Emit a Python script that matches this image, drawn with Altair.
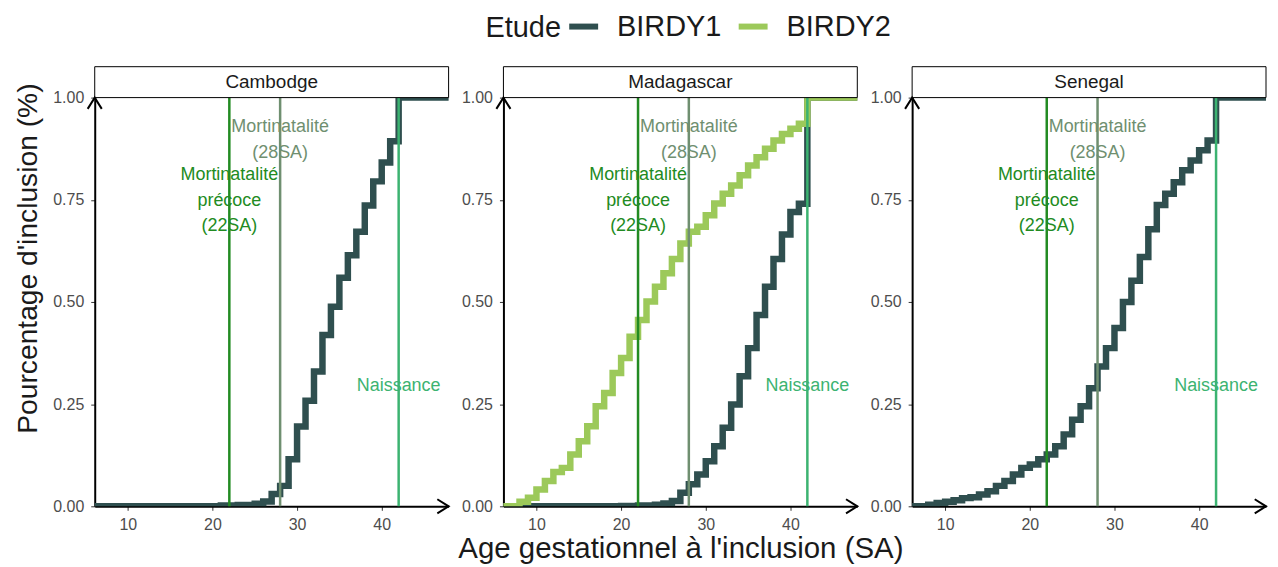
import altair as alt
import pandas as pd

# ---------------- data ----------------
countries = ["Cambodge", "Madagascar", "Senegal"]
etudes = ["BIRDY1", "BIRDY2"]
etude_colors = ["#2F4F4F", "#9CC95A"]

# ECDF step positions (weeks, SA) and cumulative share after each step
cam_b1_x = [21, 23, 25, 26, 27, 28, 29, 30, 31, 32, 33, 34, 35, 36, 37, 38, 39, 40, 41, 42]
cam_b1_y = [0.002, 0.003, 0.006, 0.012, 0.03, 0.05, 0.115, 0.195, 0.258, 0.33, 0.419,
            0.488, 0.559, 0.614, 0.672, 0.736, 0.795, 0.841, 0.893, 1.0]

mad_b1_x = [20, 22, 24, 25, 26, 27, 28, 29, 30, 31, 32, 33, 34, 35, 36, 37, 38, 39, 40, 41, 42]
mad_b1_y = [0.001, 0.002, 0.004, 0.007, 0.013, 0.033, 0.054, 0.078, 0.11, 0.147, 0.192,
            0.249, 0.318, 0.387, 0.468, 0.537, 0.605, 0.665, 0.72, 0.74, 1.0]

mad_b2_x = [8, 9, 10, 11, 12, 13, 14, 15, 16, 17, 18, 19, 20, 21, 22, 23, 24, 25, 26, 27,
            28, 29, 30, 31, 32, 33, 34, 35, 36, 37, 38, 39, 40, 41, 42]
mad_b2_y = [0.011, 0.021, 0.041, 0.062, 0.084, 0.094, 0.127, 0.159, 0.196, 0.245, 0.277,
            0.326, 0.363, 0.415, 0.456, 0.501, 0.537, 0.57, 0.605, 0.643, 0.672, 0.684,
            0.712, 0.741, 0.765, 0.785, 0.81, 0.834, 0.854, 0.875, 0.895, 0.911, 0.924,
            0.936, 1.0]

sen_b1_x = [8, 9, 10, 11, 12, 13, 14, 15, 16, 17, 18, 19, 20, 21, 22, 23, 24, 25, 26, 27,
            28, 29, 30, 31, 32, 33, 34, 35, 36, 37, 38, 39, 40, 41, 42]
sen_b1_y = [0.004, 0.008, 0.011, 0.015, 0.02, 0.022, 0.029, 0.037, 0.05, 0.062, 0.078,
            0.094, 0.102, 0.115, 0.127, 0.147, 0.176, 0.212, 0.245, 0.289, 0.342, 0.387,
            0.436, 0.5, 0.552, 0.61, 0.678, 0.737, 0.765, 0.793, 0.822, 0.846, 0.871,
            0.895, 1.0]

# ECDF padding (-Inf / +Inf ends of stat_ecdf), clipped by the panel
ecdf_lo_x, ecdf_hi_x = 0, 60

series = [
    ("Cambodge", "BIRDY1", cam_b1_x, cam_b1_y),
    ("Madagascar", "BIRDY1", mad_b1_x, mad_b1_y),
    ("Madagascar", "BIRDY2", mad_b2_x, mad_b2_y),
    ("Senegal", "BIRDY1", sen_b1_x, sen_b1_y),
]

ref_x = [22, 28, 42]
ref_labels = [["Mortinatalité", "précoce", "(22SA)"], ["Mortinatalité", "(28SA)"], ["Naissance"]]
ref_label_y = [0.81, 0.927, 0.295]   # position of the first text line
ref_colors = ["#228B22", "#6F8F70", "#3CB371"]

x_ticks = [10, 20, 30, 40]
y_ticks = [0, 0.25, 0.5, 0.75, 1.0]
x_domain = [6.1, 47.9]

# ---------------- build table ----------------
rows = []
for country, etude, xs, ys in series:
    xs_full = [ecdf_lo_x] + xs + [ecdf_hi_x]
    ys_full = [0.0] + ys + [1.0]
    for xv, yv in zip(xs_full, ys_full):
        rows.append({"country": country, "Etude": etude, "age": xv, "cum": yv})
df = pd.DataFrame(rows)
one = pd.DataFrame({"k": [0]})

FONT = "Liberation Sans"
W, H = 355, 410
STRIP = 31

legend = alt.Legend(
    orient="none", legendX=392, legendY=-89, direction="horizontal",
    titleOrient="left", titleAnchor="middle", symbolType="stroke", symbolStrokeWidth=6,
    symbolSize=841, labelFontSize=29, titleFontSize=29, titleFontWeight="normal", labelFont=FONT,
    titleFont=FONT, labelColor="#1A1A1A", titleColor="#1A1A1A", labelOffset=16,
    columnPadding=5, titlePadding=5, titleBaseline="line-top", titleLineHeight=6.6,
    labelBaseline="middle",
)


def panel(i, country):
    d = df[df["country"] == country]
    xaxis = alt.Axis(values=x_ticks, title="Age gestationnel à l'inclusion (SA)" if i == 1 else None,
                     labelPadding=6, titlePadding=2, titleFontSize=29.5)
    yaxis = alt.Axis(values=y_ticks, format=".2f",
                     title="Pourcentage d'inclusion (%)" if i == 0 else None,
                     labelPadding=7, titlePadding=10, titleFontSize=28.3, titleY=161)
    line = alt.Chart(d).mark_line(interpolate="step-after", strokeWidth=6.5, clip=True).encode(
        x=alt.X("age:Q", scale=alt.Scale(domain=x_domain, nice=False, zero=False), axis=xaxis),
        y=alt.Y("cum:Q", scale=alt.Scale(domain=[0, 1], nice=False), axis=yaxis),
        color=alt.Color("Etude:N", scale=alt.Scale(domain=etudes, range=etude_colors), legend=legend),
        detail="Etude:N",
    )
    layers = [line]
    for rx, lab, ly, col in zip(ref_x, ref_labels, ref_label_y, ref_colors):
        layers.append(alt.Chart(one).mark_rule(color=col, strokeWidth=2.5).encode(x=alt.datum(rx)))
        layers.append(alt.Chart(one).mark_text(color=col, font=FONT, fontSize=18, lineHeight=25.5,
                                               baseline="middle", align="center").encode(
            x=alt.datum(rx), y=alt.datum(ly), text=alt.value(lab)))
    strip_rect = alt.Chart(one).mark_rect(fill="white", stroke="black", strokeWidth=1).encode(
        x=alt.value(0), x2=alt.value(W), y=alt.value(-STRIP), y2=alt.value(0))
    strip_text = alt.Chart(one).mark_text(font=FONT, fontSize=19, color="#1A1A1A",
                                          baseline="middle", align="center").encode(
        x=alt.value(W / 2), y=alt.value(-STRIP / 2), text=alt.value(country))
    up_arrow = alt.Chart(one).mark_point(shape="M-1,1.6L0,0L1,1.6", filled=False, stroke="black",
                                         strokeWidth=2, size=200, opacity=1).encode(
        x=alt.value(0), y=alt.value(0))
    right_arrow = alt.Chart(one).mark_point(shape="M-1.6,-1L0,0L-1.6,1", filled=False, stroke="black",
                                            strokeWidth=2, size=200, opacity=1).encode(
        x=alt.value(W), y=alt.value(H))
    layers += [strip_rect, strip_text, up_arrow, right_arrow]
    return alt.layer(*layers).properties(width=W, height=H)


chart = alt.hconcat(*[panel(i, c) for i, c in enumerate(countries)], spacing=55, bounds="flush").configure_axis(
    domainColor="black", domainWidth=2, tickColor="#333333", tickWidth=1, tickSize=4,
    labelColor="#4D4D4D", labelFontSize=16, labelFont=FONT, titleFont=FONT, titleFontSize=28,
    titleFontWeight="normal", titleColor="#1A1A1A", grid=False,
).configure_view(stroke=None).properties(padding={"left": 5, "top": 0, "right": 0, "bottom": 0})

chart.save("out.html", embed_options={"renderer": "svg", "actions": False})
